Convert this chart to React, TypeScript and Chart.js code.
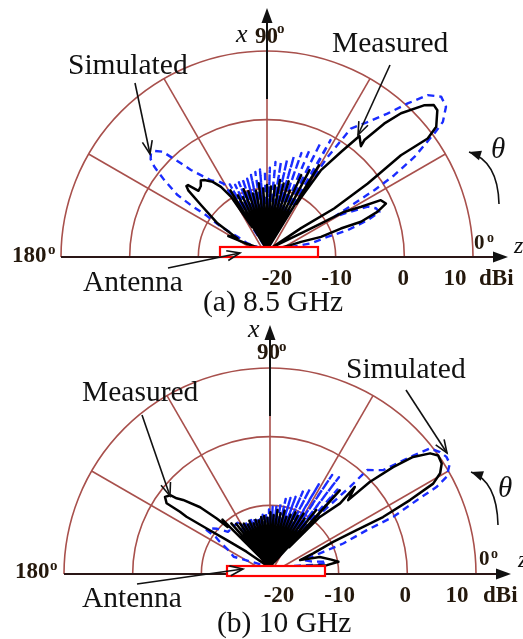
import React, { useEffect, useRef } from "react";
import { Chart, registerables } from "chart.js";

Chart.register(...registerables);

// ---------- radial scale ----------
const R_MIN = -20; // dBi at the centre
const R_SPAN = 30; // centre -> outer ring (10 dBi)
const RING_GAINS = [-10, 0, 10];
const SPOKE_ANGLES = [30, 60, 90, 120, 150];
const TICK_GAINS = [-20, -10, 0, 10];
const TICK_TEXT = ["-20", "-10", "0", "10"];

// ---------- (a) 8.5 GHz ----------
const A_MEAS_THETA = [
  0, 6, 10, 12, 13.7, 13.8, 16.3, 16.8, 19.1, 21.4, 23.7, 24.7, 26.4, 26.3, 26.2, 28.5, 32.9, 31.8, 33.5, 35.3,
  34.8, 36.1, 39.4, 41.0, 42.7, 45.6, 47.2, 48.5, 47.9, 51.0, 53.0, 56.0, 57.5,
  58.5, 60.2, 62, 63.7, 65.5, 67.2, 69, 70.7, 72.5, 74.2, 76, 77.7, 79.5, 81.2, 83, 84.7, 86.5, 88.2, 90, 91.7,
  93.5, 95.2, 97, 98.7, 100.5, 102.2, 104, 105.7, 107.5, 109.2, 111, 112.7, 114.5, 116.2, 118, 119.7, 121.5, 122.8,
  124, 126, 128.5, 131.8, 133.5, 136, 139.1, 140.5, 141.5, 142.8, 145.7, 151.6, 156, 158.2, 160, 162, 166, 172, 180,
];
const A_MEAS_GAIN = [
  -24, -22, -18, -16.5, -14.9, -11.9, -8.8, -5.7, -3.0, -1.4, -1.9, -4.9, -7.5, -11.2, -14.5, -19, -14.1, -8.5, -2.4, 3.9,
  8.5, 10.5, 12.1, 12.2, 11.1, 7.9, 5.1, 1.4, 0.4, 1.4, -2.1, -6.0, -12,
  -5.5, -19.5, -6.8, -19.5, -8, -19.5, -10.7, -19.5, -9.5, -19.5, -10, -19.5, -9.6, -19.5, -10.5, -19.5, -10.7, -19.5, -10.5, -19.5,
  -11, -19.5, -10.2, -19.5, -11.2, -19.5, -11.5, -19.5, -11, -19.5, -10.5, -19.5, -11.5, -19.5, -11, -19.5, -9.8, -16,
  -10.6, -8.6, -7.3, -6.3, -6.0, -6.6, -6.8, -5.1, -5.0, -5.6, -8.4, -11.8, -14.5, -15.4, -14.0, -16.5, -19, -22, -24,
];
const A_SIM_THETA = [
  0, 5, 8.7, 12.4, 13.9, 16.6, 18.8, 21, 23.3, 25, 26.3, 28.1, 29.2, 30.5, 32.3, 34.9, 36.1, 38.7, 41.4, 44,
  46.2, 48.6, 51.9, 55.4, 57, 58,
  60, 61.75, 63.5, 65.25, 67, 68.75, 70.5, 72.25, 74, 75.75, 77.5, 79.25, 81, 82.75, 84.5, 86.25, 88, 89.75,
  91.5, 93.25, 95, 96.75, 98.5, 100.25, 102, 103.75, 105.5, 107.25, 109, 110.75, 112.5, 114.25, 116, 117.75,
  119.5, 121.25, 123,
  125.1, 128.7, 133.5, 135.3, 136.7, 138.5, 140.2, 142, 143.5, 145.7, 148.4, 149.4, 150.2, 153.1, 155.6, 160.9, 168, 180,
];
const A_SIM_GAIN = [
  -24, -18, -13.5, -11.0, -7.9, -4.7, -2.7, -3.0, -4.0, -7.0, -9.1, -5.6, -2.1, 1.5, 5.4, 9.7, 11.7, 13.4, 13.8, 12.5,
  9.6, 6.5, 3.7, 1.5, -4, -12,
  -1.5, -19, -2.5, -19, -4, -19, -5, -19, -5.8, -19, -6.5, -19, -7, -19, -7.1, -19, -8, -19,
  -8.4, -19, -8.2, -19, -8.5, -19, -8.8, -19, -9.2, -19, -9, -19, -9.3, -19, -9.4, -19,
  -9, -19, -8.5,
  -7.8, -7.0, -3.9, -1.4, 0.9, 1.8, 2.0, 1.5, 0.4, -1.9, -4.7, -7.1, -9.8, -12.5, -15.3, -17, -21, -24,
];

// ---------- (b) 10 GHz ----------
const B_MEAS_THETA = [
  0, 2, 4.5, 7, 11.6, 13.1, 17.6, 21.8, 23.1, 23.9, 25.6, 27.1, 28.9, 31.1, 33.6, 35.4, 37.6, 39.1, 40.5, 40.6,
  43.4, 42.3, 45.2, 46.3,
  47.7, 49.4, 51, 52.7, 54.5, 56.2, 58, 59.7, 61.5, 63.2, 65, 66.7, 68.5, 70.2, 72, 73.7, 75.5, 77.2, 79, 80.7,
  82.5, 84.2, 86, 87.7, 89.5, 91.2, 93, 94.7, 96.5, 98.2, 100, 101.7, 103.5, 105.2, 107, 108.7, 110.5, 112.2,
  114, 115.7, 117.5, 119.2, 121, 122.7, 124.5, 126.2, 128, 129.7, 131.5, 133.2, 135,
  136.5, 137.6, 139.4, 142.3, 143.6, 144.2, 146.2, 148.3, 148.4, 148.9, 148.6, 148, 146.7, 150, 160, 170, 180,
];
const B_MEAS_GAIN = [
  -24, -11.7, -10.0, -11, -12.6, -15.5, -13.4, -10.1, -6.3, -2.0, 2.6, 6.7, 8.3, 9.2, 9.4, 8.6, 6.3, 3.1, -0.9, -5.0,
  -3.0, -6.2, -9.7, -16,
  -4.9, -19, -9.3, -19.5, -11.3, -19.5, -10.8, -19.5, -11.5, -19.5, -11.2, -19.5, -11.8, -19.5, -12.3, -19.5, -11.5, -19.5, -12, -19.5,
  -11.6, -19.5, -12.4, -19.5, -12, -19.5, -12.8, -19.5, -12.5, -19.5, -12.6, -19.5, -13, -19.5, -12.8, -19.5, -13.2, -19.5,
  -12.6, -19.5, -13, -19.5, -12.6, -19.5, -12.3, -19.5, -12, -19.5, -11.5, -19.5, -10.2,
  -11.5, -9.5, -6.6, -4.0, -3.1, -2.1, -1.6, -2.3, -4.6, -5.8, -9.2, -12.6, -15.9, -19, -21, -23, -24,
];
const B_SIM_THETA = [
  0, 3, 5.3, 8, 12, 16, 17.9, 20.9, 22.2, 24.5, 25.7, 27.1, 29.9, 32, 34.1, 36.6, 38.2, 40.6, 45, 45.1, 47,
  49, 50.75, 52.5, 54.25, 56, 57.75, 59.5, 61.25, 63, 64.75, 66.5, 68.25, 70, 71.75, 73.5, 75.25, 77, 78.75,
  80.5, 82.25, 84, 85.75, 87.5, 89.25, 91, 92.75, 94.5, 96.25, 98, 99.75, 101.5, 103.25, 105, 106.75, 108.5,
  110.25, 112, 113.75, 115.5, 117.25, 119, 120.75, 122.5, 124.25, 126,
  140, 144, 147.2, 149.7, 151, 153.2, 158, 164, 170, 180,
];
const B_SIM_GAIN = [
  -24, -13, -11.7, -14, -15, -11.9, -8.8, -4.9, -0.6, 3.5, 6.9, 8.9, 10.2, 10.3, 9.9, 9.0, 5.9, 1.7, 0, -3.5, -10,
  -5, -18.5, -3.5, -18.5, -3.8, -18.5, -6, -18.5, -7.2, -18.5, -8, -18.5, -9.1, -18.5, -9.5, -18.5, -9.8, -18.5,
  -10.5, -18.5, -11, -18.5, -11.2, -18.5, -11.6, -18.5, -12, -18.5, -12.3, -18.5, -12.7, -18.5, -12.5, -18.5, -12.8,
  -18.5, -12.6, -18.5, -12.6, -18.5, -12.4, -18.5, -12.2, -18.5, -12,
  -12, -10.5, -9.6, -9.3, -11, -11.8, -13.5, -14.5, -20, -24,
];

// ---------- layout ----------
const W = 523;
const H = 639;
const PX_PER_DB = 206 / 30;
const ORIGIN_LIFT = 1.0; // patterns start at the antenna's top edge
const CENTER_A = { x: 267, y: 257 };
const CENTER_B = { x: 270, y: 574 };

const SERIF = "'Liberation Serif', 'Times New Roman', serif";
const GRID = "#a8504c";
const BLUE = "#1a2cff";
const INK = "#111111";
const NUM = "#24180c";

const PANELS = [
  { xId: "x", yId: "y", rect: [-47, 51, -10, 0], tickDy: 28, tickNudge: [10, 1, -1, -18], dbiDx: 6 },
  { xId: "x2", yId: "y2", rect: [-43, 55, -8, 2], tickDy: 28, tickNudge: [9, 1, -2, -19], dbiDx: 7 },
];

type T = { s: string; x: number; y: number; f: string; c?: string };
const TEXTS: T[] = [
  // (a)
  { s: "x", x: 236, y: 42, f: `italic 26px ${SERIF}` },
  { s: "90", x: 255, y: 43, f: `bold 23px ${SERIF}`, c: NUM },
  { s: "o", x: 277, y: 33, f: `bold 15px ${SERIF}`, c: NUM },
  { s: "Measured", x: 332, y: 52, f: `29.5px ${SERIF}` },
  { s: "Simulated", x: 68, y: 74, f: `29.5px ${SERIF}` },
  { s: "θ", x: 491, y: 158, f: `italic 29px ${SERIF}` },
  { s: "0", x: 474, y: 249, f: `bold 21px ${SERIF}`, c: NUM },
  { s: "o", x: 487, y: 242, f: `bold 14px ${SERIF}`, c: NUM },
  { s: "z", x: 514, y: 253, f: `italic 24px ${SERIF}` },
  { s: "180", x: 12, y: 262, f: `bold 23px ${SERIF}`, c: NUM },
  { s: "o", x: 48, y: 254, f: `bold 15px ${SERIF}`, c: NUM },
  { s: "Antenna", x: 83, y: 291, f: `29.5px ${SERIF}` },
  { s: "(a) 8.5 GHz", x: 203, y: 311, f: `29.5px ${SERIF}` },
  // (b)
  { s: "x", x: 248, y: 337, f: `italic 26px ${SERIF}` },
  { s: "90", x: 257, y: 359, f: `bold 23px ${SERIF}`, c: NUM },
  { s: "o", x: 279, y: 351, f: `bold 15px ${SERIF}`, c: NUM },
  { s: "Simulated", x: 346, y: 378, f: `29.5px ${SERIF}` },
  { s: "Measured", x: 82, y: 401, f: `29.5px ${SERIF}` },
  { s: "θ", x: 498, y: 497, f: `italic 29px ${SERIF}` },
  { s: "0", x: 479, y: 565, f: `bold 21px ${SERIF}`, c: NUM },
  { s: "o", x: 491, y: 558, f: `bold 14px ${SERIF}`, c: NUM },
  { s: "z", x: 518, y: 567, f: `italic 24px ${SERIF}` },
  { s: "180", x: 15, y: 578, f: `bold 23px ${SERIF}`, c: NUM },
  { s: "o", x: 50, y: 570, f: `bold 15px ${SERIF}`, c: NUM },
  { s: "Antenna", x: 82, y: 607, f: `29.5px ${SERIF}` },
  { s: "(b) 10 GHz", x: 217, y: 632, f: `29.5px ${SERIF}` },
];

// straight pointer arrows [x1, y1, x2(tip), y2(tip)]
const POINTERS = [
  [135, 83, 150, 154],
  [390, 65, 358, 135],
  [168, 268, 240, 253],
  [406, 390, 447, 453],
  [142, 415, 170, 496],
  [137, 584, 243, 569],
];
// curved theta arrows [x1, y1, cx, cy, x2(tip), y2(tip)]
const THETA_ARROWS = [
  [499, 204, 498, 161, 469, 152],
  [498, 525, 497, 481, 471, 472],
];

function toXY(theta: number[], gain: number[]) {
  return theta.map((t, i) => {
    const r = Math.max(0, gain[i] - R_MIN);
    const a = (t * Math.PI) / 180;
    return { x: r * Math.cos(a), y: r * Math.sin(a) + ORIGIN_LIFT };
  });
}

function filledHead(ctx: CanvasRenderingContext2D, fx: number, fy: number, tx: number, ty: number, len: number, half: number) {
  const a = Math.atan2(ty - fy, tx - fx);
  const bx = tx - len * Math.cos(a);
  const by = ty - len * Math.sin(a);
  ctx.beginPath();
  ctx.moveTo(tx, ty);
  ctx.lineTo(bx - half * Math.sin(a), by + half * Math.cos(a));
  ctx.lineTo(bx + half * Math.sin(a), by - half * Math.cos(a));
  ctx.closePath();
  ctx.fill();
}

function openHead(ctx: CanvasRenderingContext2D, fx: number, fy: number, tx: number, ty: number, len: number, half: number) {
  const a = Math.atan2(ty - fy, tx - fx);
  const bx = tx - len * Math.cos(a);
  const by = ty - len * Math.sin(a);
  ctx.beginPath();
  ctx.moveTo(bx - half * Math.sin(a), by + half * Math.cos(a));
  ctx.lineTo(tx, ty);
  ctx.lineTo(bx + half * Math.sin(a), by - half * Math.cos(a));
  ctx.stroke();
}

const decorPlugin = {
  id: "polarDecor",
  beforeDatasetsDraw(chart: any) {
    const ctx: CanvasRenderingContext2D = chart.ctx;
    for (const p of PANELS) {
      const xs = chart.scales[p.xId];
      const ys = chart.scales[p.yId];
      const cx = xs.getPixelForValue(0);
      const cy = ys.getPixelForValue(0);
      const k = xs.getPixelForValue(1) - cx;
      ctx.save();
      ctx.strokeStyle = GRID;
      ctx.lineWidth = 1.6;
      for (const g of RING_GAINS) {
        ctx.beginPath();
        ctx.arc(cx, cy, (g - R_MIN) * k, Math.PI, 2 * Math.PI);
        ctx.stroke();
      }
      const R = R_SPAN * k;
      for (const a of SPOKE_ANGLES) {
        const r = (a * Math.PI) / 180;
        ctx.beginPath();
        ctx.moveTo(cx, cy);
        ctx.lineTo(cx + R * Math.cos(r), cy - R * Math.sin(r));
        ctx.stroke();
      }
      ctx.restore();
    }
  },
  afterDatasetsDraw(chart: any) {
    const ctx: CanvasRenderingContext2D = chart.ctx;
    for (const p of PANELS) {
      const xs = chart.scales[p.xId];
      const ys = chart.scales[p.yId];
      const cx = xs.getPixelForValue(0);
      const cy = ys.getPixelForValue(0);
      const k = xs.getPixelForValue(1) - cx;
      const R = R_SPAN * k;
      ctx.save();
      // baseline (z axis) with arrow
      ctx.strokeStyle = "#2a1616";
      ctx.fillStyle = "#111";
      ctx.lineWidth = 2;
      ctx.beginPath();
      ctx.moveTo(cx - R, cy);
      ctx.lineTo(cx + 234, cy);
      ctx.stroke();
      filledHead(ctx, cx, cy, cx + 241, cy, 15, 5.5);
      // x axis arrow
      ctx.strokeStyle = "#111";
      ctx.lineWidth = 2;
      ctx.beginPath();
      ctx.moveTo(cx, cy - 158);
      ctx.lineTo(cx, cy - 238);
      ctx.stroke();
      filledHead(ctx, cx, cy, cx, cy - 249, 15, 5.5);
      // antenna
      const [l, r, t, b] = p.rect;
      ctx.fillStyle = "#ffffff";
      ctx.fillRect(cx + l, cy + t, r - l, b - t);
      ctx.strokeStyle = "#ff0000";
      ctx.lineWidth = 2.2;
      ctx.strokeRect(cx + l, cy + t, r - l, b - t);
      // radial tick labels
      ctx.fillStyle = NUM;
      ctx.font = `bold 23px ${SERIF}`;
      ctx.textAlign = "center";
      ctx.textBaseline = "alphabetic";
      TICK_GAINS.forEach((g, i) => {
        ctx.fillText(TICK_TEXT[i], cx + (g - R_MIN) * k + p.tickNudge[i], cy + p.tickDy);
      });
      ctx.textAlign = "left";
      ctx.fillText("dBi", cx + R + p.dbiDx, cy + p.tickDy);
      ctx.restore();
    }
  },
  afterDraw(chart: any) {
    const ctx: CanvasRenderingContext2D = chart.ctx;
    ctx.save();
    ctx.textBaseline = "alphabetic";
    ctx.textAlign = "left";
    for (const t of TEXTS) {
      ctx.font = t.f;
      ctx.fillStyle = t.c || INK;
      ctx.fillText(t.s, t.x, t.y);
    }
    ctx.strokeStyle = "#111";
    ctx.fillStyle = "#111";
    ctx.lineWidth = 1.6;
    for (const [x1, y1, x2, y2] of POINTERS) {
      ctx.beginPath();
      ctx.moveTo(x1, y1);
      ctx.lineTo(x2, y2);
      ctx.stroke();
      openHead(ctx, x1, y1, x2, y2, 13, 5);
    }
    for (const [x1, y1, qx, qy, x2, y2] of THETA_ARROWS) {
      ctx.beginPath();
      ctx.moveTo(x1, y1);
      ctx.quadraticCurveTo(qx, qy, x2, y2);
      ctx.stroke();
      filledHead(ctx, qx, qy, x2, y2, 12, 5);
    }
    ctx.restore();
  },
};

export default function App() {
  const ref = useRef<HTMLCanvasElement | null>(null);

  useEffect(() => {
    if (!ref.current) return;
    const K = PX_PER_DB;
    const line = (data: any, color: string, dashed: boolean, xId: string, yId: string) => ({
      data,
      xAxisID: xId,
      yAxisID: yId,
      showLine: true,
      borderColor: color,
      backgroundColor: color,
      borderWidth: dashed ? 2.4 : 2.5,
      borderDash: dashed ? [7, 5] : [],
      borderJoinStyle: "round",
      pointRadius: 0,
      pointHoverRadius: 0,
      fill: false,
      tension: 0,
      clip: false,
    });
    // dataset 0 is drawn last (on top): measured (black) above simulated (blue)
    const chart = new Chart(ref.current, {
      type: "scatter",
      data: {
        datasets: [
          line(toXY(A_MEAS_THETA, A_MEAS_GAIN), "#000000", false, "x", "y"),
          line(toXY(B_MEAS_THETA, B_MEAS_GAIN), "#000000", false, "x2", "y2"),
          line(toXY(A_SIM_THETA, A_SIM_GAIN), BLUE, true, "x", "y"),
          line(toXY(B_SIM_THETA, B_SIM_GAIN), BLUE, true, "x2", "y2"),
        ] as any,
      },
      options: {
        animation: false,
        responsive: false,
        maintainAspectRatio: false,
        events: [],
        layout: { padding: 0 },
        plugins: { legend: { display: false }, tooltip: { enabled: false }, title: { display: false } },
        scales: {
          x: { type: "linear", display: false, min: -CENTER_A.x / K, max: (W - CENTER_A.x) / K },
          y: { type: "linear", display: false, min: -(H - CENTER_A.y) / K, max: CENTER_A.y / K },
          x2: { type: "linear", axis: "x", display: false, min: -CENTER_B.x / K, max: (W - CENTER_B.x) / K },
          y2: { type: "linear", axis: "y", display: false, min: -(H - CENTER_B.y) / K, max: CENTER_B.y / K },
        } as any,
      },
      plugins: [decorPlugin],
    });
    return () => chart.destroy();
  }, []);

  return (
    <div style={{ position: "absolute", left: 0, top: 0, width: W, height: H, background: "#ffffff" }}>
      <canvas ref={ref} width={W} height={H} style={{ display: "block", width: W, height: H }} />
    </div>
  );
}
